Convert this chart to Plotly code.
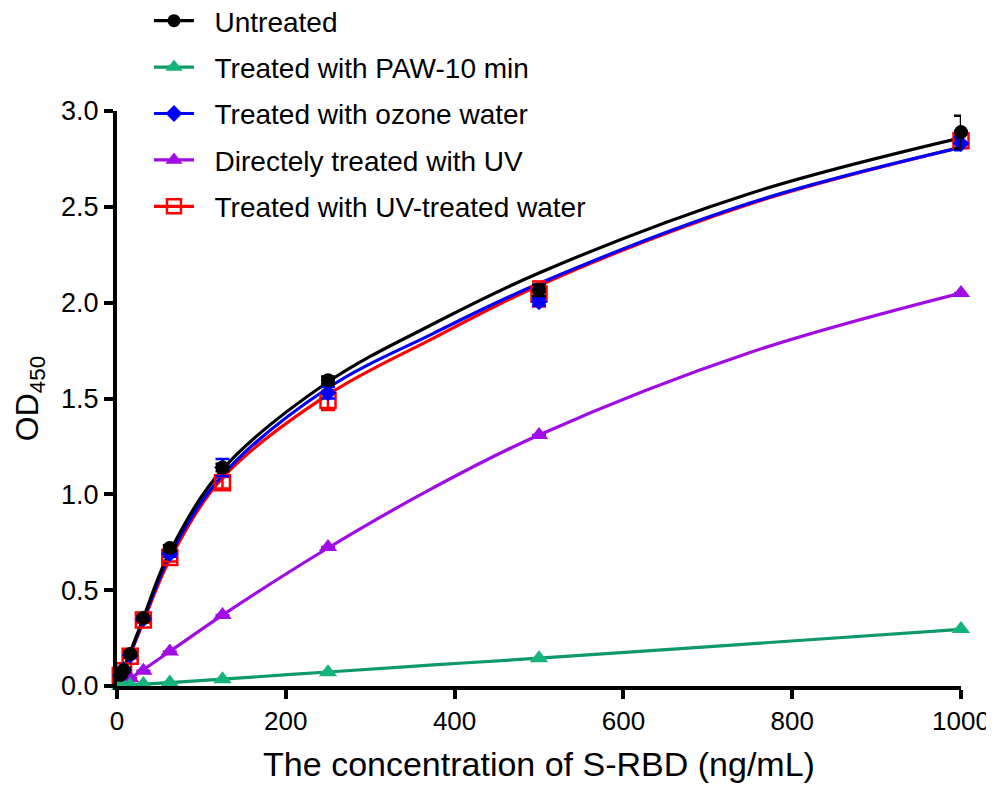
import plotly.graph_objects as go

# ---- data ----
conc = [3.9, 7.8, 15.6, 31.25, 62.5, 125, 250, 500, 1000]

untreated = [0.057, 0.083, 0.167, 0.355, 0.72, 1.14, 1.595, 2.065, 2.89]
untreated_err = [0.01, 0.01, 0.01, 0.01, 0.015, 0.02, 0.02, 0.03, 0.085]

paw10 = [0.0, 0.003, 0.005, 0.01, 0.018, 0.035, 0.072, 0.145, 0.298]
paw10_err = [0, 0, 0, 0, 0, 0, 0, 0, 0]

ozone = [0.055, 0.085, 0.16, 0.35, 0.69, 1.14, 1.53, 2.005, 2.83]
ozone_err = [0.01, 0.01, 0.01, 0.01, 0.015, 0.045, 0.03, 0.02, 0.035]

uv_direct = [0.01, 0.02, 0.04, 0.08, 0.18, 0.37, 0.725, 1.31, 2.05]
uv_direct_err = [0, 0, 0, 0, 0, 0, 0, 0, 0]

uv_water = [0.055, 0.08, 0.155, 0.345, 0.67, 1.06, 1.49, 2.045, 2.845]
uv_water_err = [0.01, 0.01, 0.01, 0.015, 0.02, 0.03, 0.05, 0.065, 0.04]

# fitted curves
fit_x = [3.9, 7.8, 15.6, 31.25, 62.5, 125, 250, 375, 500, 750, 1000]
untreated_fit = [0.05, 0.09, 0.175, 0.355, 0.70, 1.13, 1.586, 1.89, 2.155, 2.57, 2.86]
paw10_fit = [0.001, 0.003, 0.005, 0.01, 0.018, 0.036, 0.073, 0.11, 0.145, 0.22, 0.295]
ozone_fit = [0.05, 0.09, 0.17, 0.345, 0.68, 1.10, 1.555, 1.84, 2.10, 2.52, 2.81]
uv_direct_fit = [0.01, 0.02, 0.04, 0.085, 0.18, 0.37, 0.72, 1.035, 1.31, 1.74, 2.05]
uv_water_fit = [0.05, 0.085, 0.165, 0.335, 0.66, 1.085, 1.52, 1.815, 2.09, 2.515, 2.81]

names = ["Untreated", "Treated with PAW-10 min", "Treated with ozone water",
         "Directely treated with UV", "Treated with UV-treated water"]
x_ticks = [0, 200, 400, 600, 800, 1000]
y_ticks = [0.0, 0.5, 1.0, 1.5, 2.0, 2.5, 3.0]

FONT = "Arial, Liberation Sans, sans-serif"
GAP = "\u00a0\u00a0"

series = [
    dict(name=names[0], y=untreated, e=untreated_err, fit=untreated_fit, color="#000000",
         lcolor="#000000", symbol="circle", size=14, lsize=13, open=False, rank=1),
    dict(name=names[1], y=paw10, e=paw10_err, fit=paw10_fit, color="#14B47A",
         lcolor="#0E9A66", symbol="triangle-up", size=16, lsize=15, open=False, rank=2),
    dict(name=names[2], y=ozone, e=ozone_err, fit=ozone_fit, color="#0000FF",
         lcolor="#0000FF", symbol="diamond", size=13, lsize=13, open=False, rank=3),
    dict(name=names[3], y=uv_direct, e=uv_direct_err, fit=uv_direct_fit, color="#A00BE6",
         lcolor="#A00BE6", symbol="triangle-up", size=16, lsize=15, open=False, rank=4),
    dict(name=names[4], y=uv_water, e=uv_water_err, fit=uv_water_fit, color="#FF0000",
         lcolor="#FF0000", symbol="square-open", size=15, lsize=14, open=True, rank=5),
]

draw_order = [4, 3, 2, 1, 0]

fig = go.Figure()

# curves
for i in draw_order:
    s = series[i]
    fig.add_trace(go.Scatter(
        x=fit_x, y=s["fit"], mode="lines", line=dict(color=s["lcolor"], width=3.2, shape="spline"),
        showlegend=False, hoverinfo="skip", legendgroup=s["name"]))

# points with error bars
for i in draw_order:
    s = series[i]
    mk = dict(symbol=s["symbol"], size=s["size"], color=s["color"])
    if s["open"]:
        mk["line"] = dict(color=s["color"], width=2.5)
    fig.add_trace(go.Scatter(
        x=conc, y=s["y"], mode="markers", marker=mk,
        error_y=dict(type="data", array=s["e"], visible=True, color=s["color"],
                     thickness=2.5, width=7),
        showlegend=False, legendgroup=s["name"], cliponaxis=False))

# legend entries
for s in series:
    mk = dict(symbol=s["symbol"], size=s["lsize"], color=s["color"])
    if s["open"]:
        mk["line"] = dict(color=s["color"], width=2.5)
    fig.add_trace(go.Scatter(
        x=[None], y=[None], mode="lines+markers", name=GAP + s["name"],
        line=dict(color=s["lcolor"], width=3.2), marker=mk,
        legendgroup=s["name"], legendrank=s["rank"], showlegend=True))

axis_common = dict(
    showline=True, linecolor="black", linewidth=4, ticks="outside", tickwidth=4,
    ticklen=9, tickcolor="black", showgrid=False, zeroline=False,
)

# the page body adds an 8px offset, so the figure is 8px smaller in each direction
fig.update_layout(
    width=986, height=787,
    margin=dict(l=109, r=33, t=103, b=109, autoexpand=False),
    paper_bgcolor="white", plot_bgcolor="white",
    font=dict(family=FONT, color="black"),
    xaxis=dict(range=[0, 1000], tickvals=x_ticks,
               tickfont=dict(family=FONT, size=26, color="black"),
               title=dict(text="The concentration of S-RBD (ng/mL)",
                          font=dict(family=FONT, size=34, color="black"), standoff=18),
               **axis_common),
    yaxis=dict(range=[0, 3.0], tickvals=y_ticks, tickformat=".1f",
               tickfont=dict(family=FONT, size=27, color="black"),
               title=dict(text="OD<sub>450</sub>",
                          font=dict(family=FONT, size=32, color="black"), standoff=14),
               **axis_common),
    legend=dict(x=0.0379, y=1.2, xanchor="left", yanchor="top",
                font=dict(family=FONT, size=28, color="black"),
                bgcolor="rgba(0,0,0,0)", itemwidth=40, tracegroupgap=7,
                traceorder="grouped"),
    showlegend=True,
)

fig.write_html("out.html")
